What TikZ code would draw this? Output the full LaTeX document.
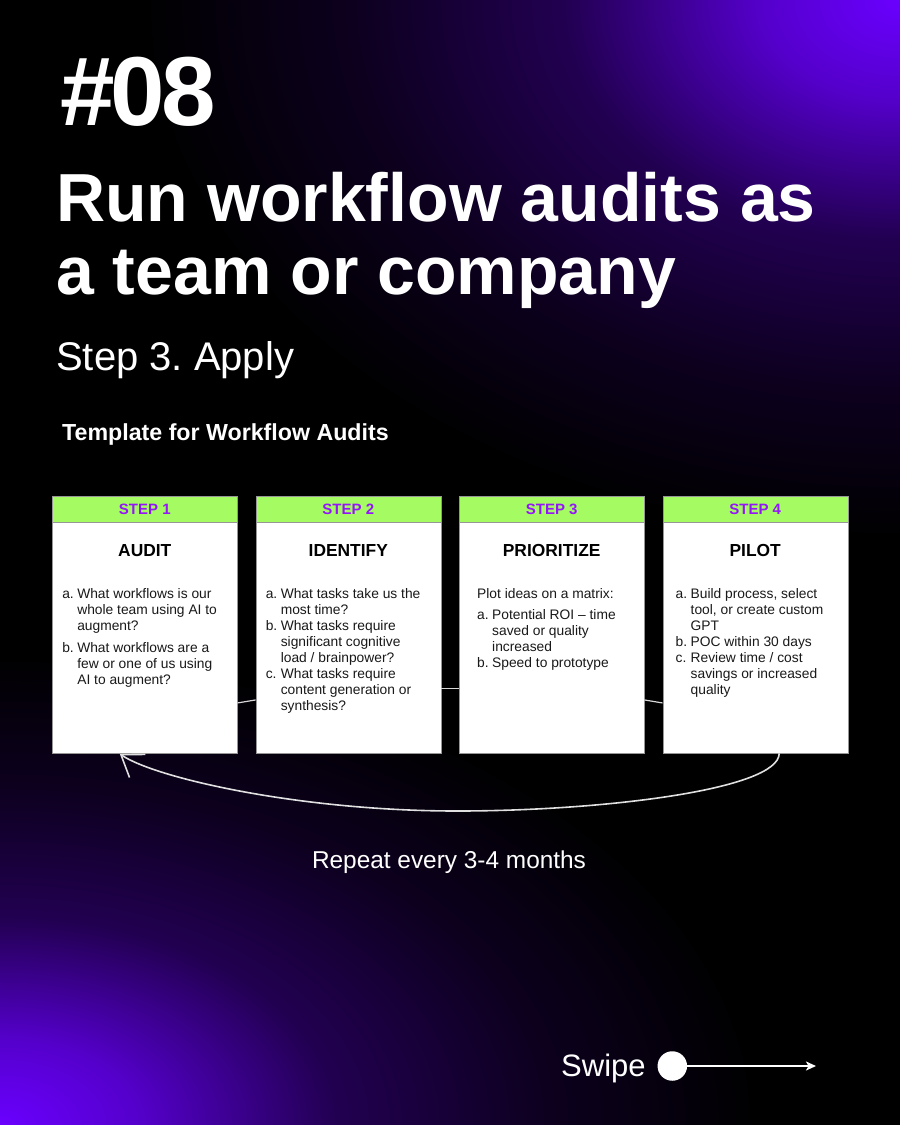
\documentclass[tikz,border=0pt]{standalone}
\usepackage{fontspec}
\setmainfont{Liberation Sans}
\usetikzlibrary{positioning,calc,arrows.meta}
\definecolor{stepgreen}{RGB}{164,252,98}
\definecolor{steppurple}{RGB}{150,20,250}
\definecolor{boxgray}{RGB}{150,150,150}
\definecolor{linegray}{RGB}{215,215,215}
\definecolor{glowviolet}{RGB}{106,0,255}
\colorlet{glowmid}{glowviolet!80!black}
\colorlet{glowlow}{glowviolet!32!black}
\colorlet{glowtail}{glowviolet!12!black}
\newcommand{\pxfont}[2]{\fontsize{#1}{#2}\selectfont}
\newcommand{\itemlbl}[1]{\makebox[15pt][l]{#1}}
\pgfdeclareradialshading{cornerglow}{\pgfpoint{0bp}{0bp}}{color(0bp)=(glowviolet); color(4.5bp)=(glowmid); color(11bp)=(glowlow); color(18bp)=(glowtail); color(25bp)=(black); color(50bp)=(black)}
\frenchspacing

\begin{document}
\begin{tikzpicture}[x=1pt,y=-1pt,
  stephead/.style={draw=boxgray,fill=stepgreen,minimum width=185pt,minimum height=25.5pt,
                   inner sep=0pt,text=steppurple,font=\pxfont{15}{18}\bfseries},
  stepbody/.style={draw=boxgray,fill=white,minimum width=185pt,minimum height=231pt,inner sep=0pt},
  steptitle/.style={anchor=base,inner sep=0pt,font=\pxfont{17.4}{20}\bfseries},
  steptext/.style={anchor=north west,inner sep=0pt,align=left,text=black!90,font=\pxfont{13.8}{16}},
  heading/.style={anchor=base west,inner sep=0pt,text=white},
  link/.style={draw=linegray,line width=1.2pt},
  repeatarc/.style={draw=white!88!black,line width=1.6pt,-{Straight Barb[length=20pt,width=28pt]}}]
  \useasboundingbox (0,0) rectangle (900,1125);
  % background
  \fill[black] (0,0) rectangle (900,1125);
  \shade[shading=cornerglow] (900,0) ellipse [x radius=760, y radius=540];
  \shade[shading=cornerglow] (0,1125) ellipse [x radius=760, y radius=470];

  % headings
  \node[heading,font=\pxfont{98}{100}\bfseries] (num) at (60,125) {\#\kern-4pt0\kern-4pt8};
  \node[heading,font=\pxfont{68}{73}\bfseries] (title1) at (56,221.5) {Run workflow audits as};
  \node[heading,font=\pxfont{68}{73}\bfseries] (title2) at (56,294.5) {a team or company};
  \node[heading,font=\pxfont{40}{44}] (sub) at (56,370) {Step 3. Apply};
  \node[heading,font=\pxfont{23.2}{26}\bfseries] (tmpl) at (62,440.7) {Template for Workflow Audits};

  % step boxes
  \node[stephead] (h1) at (144.8,509) {STEP 1};
  \node[stephead] (h2) at (348.3,509) {STEP 2};
  \node[stephead] (h3) at (551.7,509) {STEP 3};
  \node[stephead] (h4) at (755.2,509) {STEP 4};
  \node[stepbody,below=0pt of h1] (b1) {};
  \node[stepbody,below=0pt of h2] (b2) {};
  \node[stepbody,below=0pt of h3] (b3) {};
  \node[stepbody,below=0pt of h4] (b4) {};

  \node[steptitle] (t1) at ($(b1.north)+(0,35)$) {AUDIT};
  \node[steptitle] (t2) at ($(b2.north)+(0,35)$) {IDENTIFY};
  \node[steptitle] (t3) at ($(b3.north)+(0,35)$) {PRIORITIZE};
  \node[steptitle] (t4) at ($(b4.north)+(0,35)$) {PILOT};

  \node[steptext] (q1) at ($(b1.north west)+(10,65.3)$) {%
    \begin{tabular}{@{}l@{}l@{}}
    \itemlbl{a.}&What workflows is our\\
    &whole team using AI to\\
    &augment?\\[6pt]
    \itemlbl{b.}&What workflows are a\\
    &few or one of us using\\
    &AI to augment?
    \end{tabular}};
  \node[steptext] (q2) at ($(b2.north west)+(10,65.3)$) {%
    \begin{tabular}{@{}l@{}l@{}}
    \itemlbl{a.}&What tasks take us the\\
    &most time?\\
    \itemlbl{b.}&What tasks require\\
    &significant cognitive\\
    &load / brainpower?\\
    \itemlbl{c.}&What tasks require\\
    &content generation or\\
    &synthesis?
    \end{tabular}};
  \node[steptext] (q3) at ($(b3.north west)+(18,65.3)$) {%
    \begin{tabular}{@{}l@{}l@{}}
    \multicolumn{2}{@{}l@{}}{Plot ideas on a matrix:}\\[5pt]
    \itemlbl{a.}&Potential ROI -- time\\
    &saved or quality\\
    &increased\\
    \itemlbl{b.}&Speed to prototype
    \end{tabular}};
  \node[steptext] (q4) at ($(b4.north west)+(13,65.3)$) {%
    \begin{tabular}{@{}l@{}l@{}}
    \itemlbl{a.}&Build process, select\\
    &tool, or create custom\\
    &GPT\\
    \itemlbl{b.}&POC within 30 days\\
    \itemlbl{c.}&Review time / cost\\
    &savings or increased\\
    &quality
    \end{tabular}};

  % links between the boxes
  \draw[link] ($(b1.east)+(0,65.3)$) -- ($(b2.west)+(0,62.3)$);
  \draw[link] ($(b2.east)+(0,51)$) -- ($(b3.west)+(0,51)$);
  \draw[link] ($(b3.east)+(0,62.3)$) -- ($(b4.west)+(0,65.3)$);

  % repeat loop
  \coordinate (loopmid) at (457,811);
  \draw[repeatarc] ($(b4.south)+(24,0)$) .. controls (779,790) and (600,811) .. (loopmid)
    .. controls (300,811) and (155,778) .. ($(b1.south)+(-25,0.5)$);
  \node[anchor=base,inner sep=0pt,text=white,font=\pxfont{24.4}{28}] (rep) at (449,868.3) {Repeat every 3-4 months};

  % swipe
  \node[heading,font=\pxfont{31}{34}] (swipe) at (561,1076.7) {Swipe};
  \node[circle,fill=white,minimum size=29.5pt,inner sep=0pt] (dot) at (672.3,1066) {};
  \coordinate (swipeend) at (816,1066);
  \draw[white,line width=1.8pt,-{Stealth[length=10pt,width=9pt,inset=2.5pt]}] (dot.east) -- (swipeend);
\end{tikzpicture}
\end{document}
